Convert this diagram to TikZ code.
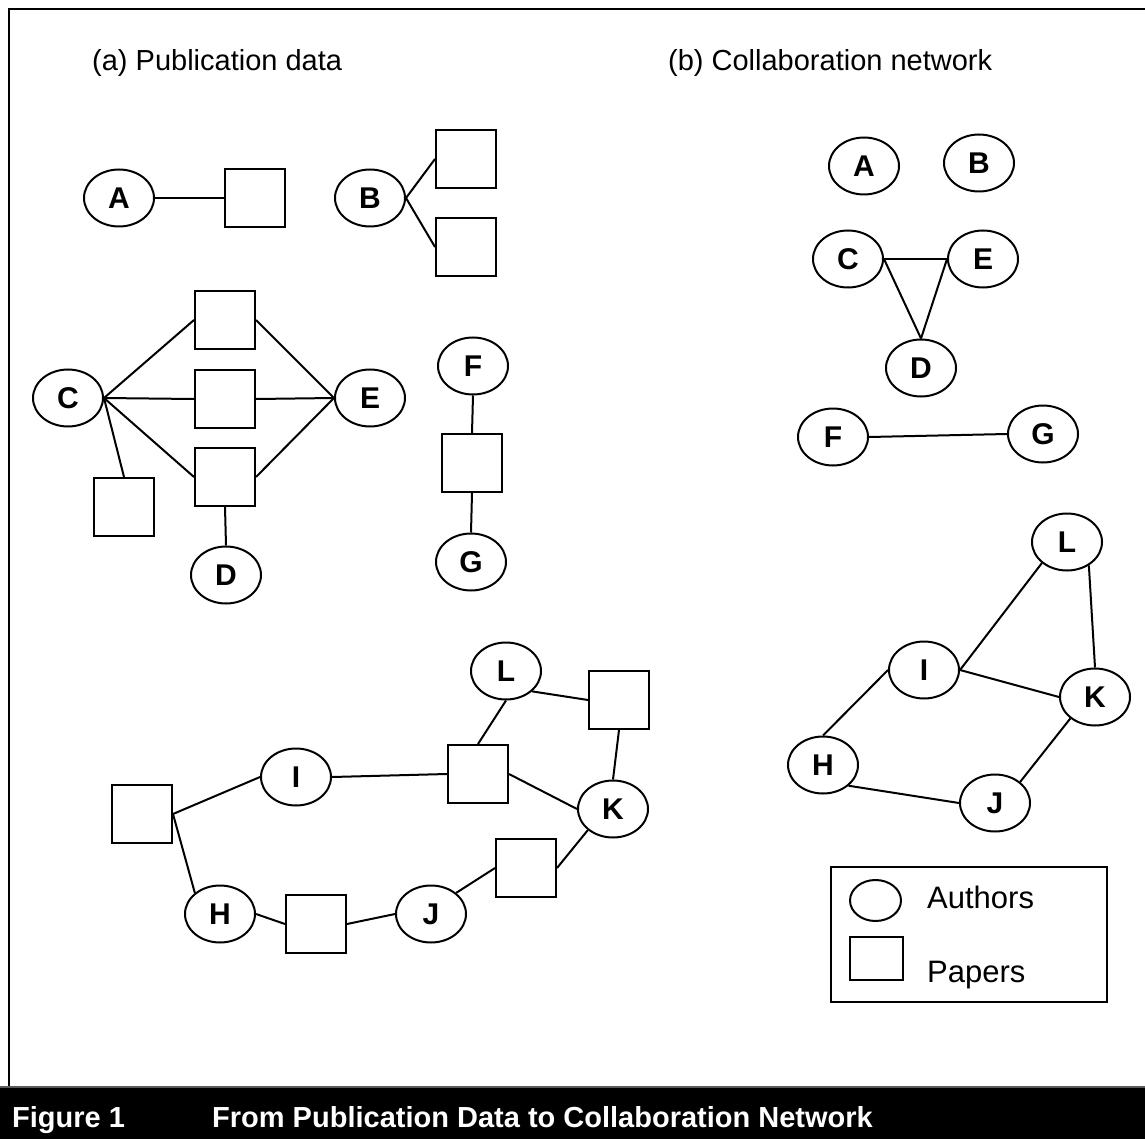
\documentclass[tikz,border=0pt]{standalone}
\usepackage{fontspec}
\setmainfont{Liberation Sans}
\usetikzlibrary{shapes.geometric}
\begin{document}
\begin{tikzpicture}[x=1pt,y=-1pt,
  author/.style={ellipse,draw,line width=2pt,minimum width=70pt,minimum height=57pt,inner sep=0pt,font=\fontsize{30}{30}\selectfont\bfseries},
  paper/.style={rectangle,draw,line width=2pt,minimum width=60pt,minimum height=58pt,inner sep=0pt},
  edge/.style={line width=2pt},
  title/.style={anchor=base west,inner sep=0pt,font=\fontsize{29}{34}\selectfont},
  legtext/.style={anchor=base west,inner sep=0pt,font=\fontsize{31}{36}\selectfont},
  captext/.style={anchor=base west,inner sep=0pt,text=white,font=\fontsize{29}{34}\selectfont\bfseries},
]
\useasboundingbox (0,0) rectangle (1145,1139);
\fill[white] (0,0) rectangle (1145,1139);

% frame and caption band
\draw[line width=2pt] (9,1086) -- (9,9) -- (1145,9);
\fill[black] (0,1086) rectangle (1145,1139);
\draw[black!65,line width=1.5pt] (0,1087) -- (1145,1087);
\node[captext] (fig) at (12,1127) {Figure 1};
\node[captext] (cap) at (212,1127) {From Publication Data to Collaboration Network};

% titles
\node[title] (ta) at (92,71) {(a) Publication data};
\node[title] (tb) at (668,71) {(b) Collaboration network};

% ---------- (a) publication data ----------
\node[author] (a1) at (119,198) {A};
\node[paper]  (pa) at (255,198) {};
\node[author] (b1) at (370,198) {B};
\node[paper]  (pb1) at (466,159) {};
\node[paper]  (pb2) at (466,247) {};
\draw[edge] (a1.east) -- (pa.west);
\draw[edge] (b1.east) -- (pb1.west);
\draw[edge] (b1.east) -- (pb2.west);

\node[author] (c1) at (68,398) {C};
\node[paper]  (pc1) at (225,320) {};
\node[paper]  (pc2) at (225,399) {};
\node[paper]  (pc3) at (225,477) {};
\node[paper]  (pc4) at (124,507) {};
\node[author] (e1) at (370,398) {E};
\node[author] (d1) at (226,575) {D};
\draw[edge] (c1.east) -- (pc1.west);
\draw[edge] (c1.east) -- (pc2.west);
\draw[edge] (c1.east) -- (pc3.west);
\draw[edge] (c1.east) -- (pc4.north);
\draw[edge] (pc1.east) -- (e1.west);
\draw[edge] (pc2.east) -- (e1.west);
\draw[edge] (pc3.east) -- (e1.west);
\draw[edge] (pc3.south) -- (d1.north);

\node[author] (f1) at (473,366) {F};
\node[paper]  (pfg) at (472,463) {};
\node[author] (g1) at (471,562) {G};
\draw[edge] (f1.south) -- (pfg.north);
\draw[edge] (pfg.south) -- (g1.north);

\node[paper]  (p1) at (142,814) {};
\node[author] (i1) at (296,777) {I};
\node[paper]  (p2) at (478,774) {};
\node[author] (l1) at (506,671) {L};
\node[paper]  (p3) at (619,700) {};
\node[author] (k1) at (613,809) {K};
\node[paper]  (p4) at (526,868) {};
\node[author] (j1) at (431,914) {J};
\node[paper]  (p5) at (316,924) {};
\node[author] (h1) at (220,914) {H};
\draw[edge] (p1.east) -- (i1.west);
\draw[edge] (p1.east) -- (h1.140);
\draw[edge] (i1.east) -- (p2.west);
\draw[edge] (p2.north) -- (l1.south);
\draw[edge] (l1.-38) -- (p3.west);
\draw[edge] (p3.south) -- (k1.north);
\draw[edge] (p2.east) -- (k1.west);
\draw[edge] (k1.-140) -- (p4.east);
\draw[edge] (p4.west) -- (j1.40);
\draw[edge] (j1.west) -- (p5.east);
\draw[edge] (h1.east) -- (p5.west);

% ---------- (b) collaboration network ----------
\node[author] (a2) at (864,166) {A};
\node[author] (b2) at (979,163) {B};
\node[author] (c2) at (848,259) {C};
\node[author] (e2) at (983,259) {E};
\node[author] (d2) at (921,368) {D};
\node[author] (f2) at (833,437) {F};
\node[author] (g2) at (1043,434) {G};
\draw[edge] (c2.east) -- (e2.west);
\draw[edge] (c2.east) -- (d2.north);
\draw[edge] (e2.west) -- (d2.north);
\draw[edge] (f2.east) -- (g2.west);

\node[author] (l2) at (1067,542) {L};
\node[author] (i2) at (924,670) {I};
\node[author] (k2) at (1095,697) {K};
\node[author] (h2) at (823,765) {H};
\node[author] (j2) at (995,803) {J};
\draw[edge] (i2.east) -- (l2.-140);
\draw[edge] (l2.-47) -- (k2.north);
\draw[edge] (i2.east) -- (k2.west);
\draw[edge] (h2.north) -- (i2.west);
\draw[edge] (h2.-39) -- (j2.west);
\draw[edge] (j2.40) -- (k2.-139);

% legend
\draw[line width=2pt] (831,867) rectangle (1107,1002);
\node[ellipse,draw,line width=2pt,minimum width=51pt,minimum height=41pt,inner sep=0pt] (legA) at (875.5,900.5) {};
\node[rectangle,draw,line width=2pt,minimum width=53pt,minimum height=43pt,inner sep=0pt] (legP) at (876.5,958.5) {};
\node[legtext] (legAt) at (927,908) {Authors};
\node[legtext] (legPt) at (927,982) {Papers};
\end{tikzpicture}
\end{document}
